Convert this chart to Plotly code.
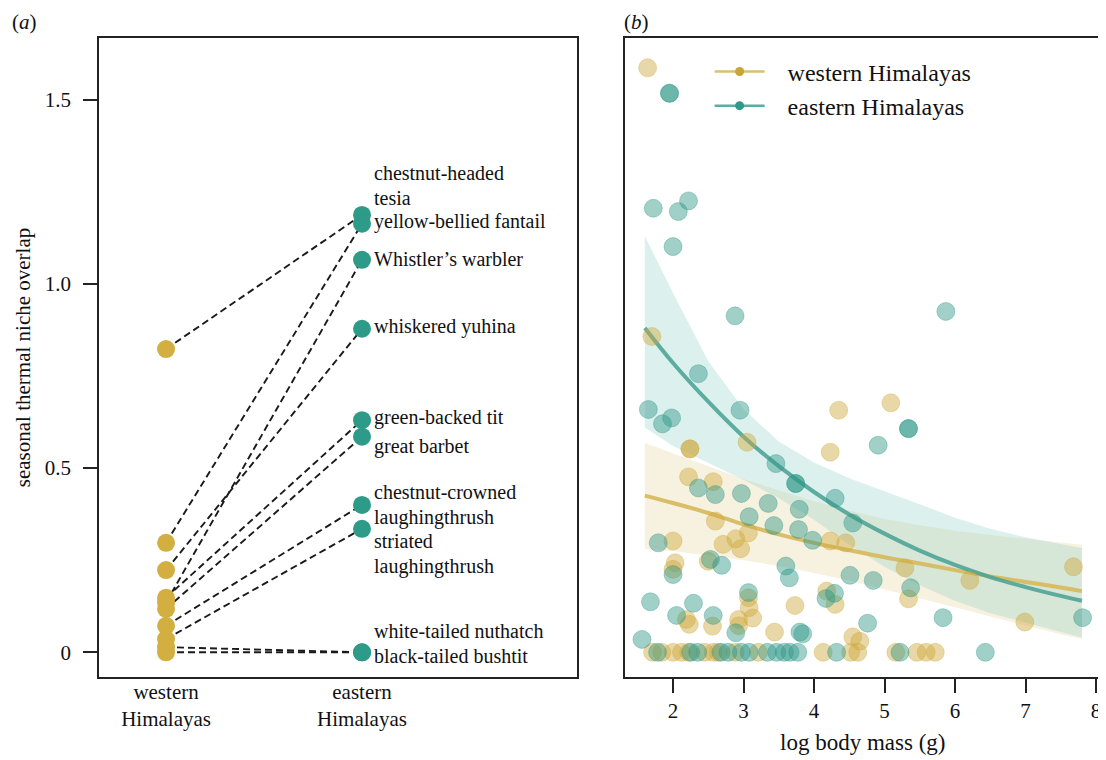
import plotly.graph_objects as go

# ---------------- panel (a) data ----------------
species = ["chestnut-headed tesia", "yellow-bellied fantail", "Whistler\u2019s warbler",
           "whiskered yuhina", "green-backed tit", "great barbet",
           "chestnut-crowned laughingthrush", "striated laughingthrush",
           "white-tailed nuthatch", "black-tailed bushtit"]
west_overlap = [0.823, 0.297, 0.135, 0.223, 0.148, 0.118, 0.072, 0.036, 0.014, 0.0]
east_overlap = [1.187, 1.163, 1.065, 0.878, 0.630, 0.585, 0.400, 0.335, 0.0, 0.0]
region_ticks = ["western<br>Himalayas", "eastern<br>Himalayas"]

# label text lines for the eastern points (text, y position in data units)
label_lines = [("chestnut-headed", 1.300), ("tesia", 1.232), ("yellow-bellied fantail", 1.168),
               ("Whistler\u2019s warbler", 1.068), ("whiskered yuhina", 0.883),
               ("green-backed tit", 0.637), ("great barbet", 0.558),
               ("chestnut-crowned", 0.434), ("laughingthrush", 0.366),
               ("striated", 0.301), ("laughingthrush", 0.233),
               ("white-tailed nuthatch", 0.057), ("black-tailed bushtit", -0.011)]

# ---------------- panel (b) data ----------------
west_mass = [1.64, 1.70, 5.09, 4.35, 4.23, 3.05, 2.24, 2.24, 2.22, 2.57, 2.60, 3.07, 2.89,
             2.71, 2.96, 4.23, 4.45, 2.00, 2.03, 2.00, 2.50, 5.29, 5.34, 6.21, 7.68, 6.99,
             3.07, 3.08, 3.73, 4.18, 4.30, 2.19, 2.23, 2.56, 2.93, 3.13, 2.93, 3.44, 4.55,
             4.65,
             1.71, 1.84, 2.00, 2.12, 2.22, 2.45, 2.57, 2.64, 2.88, 3.21, 4.13, 4.52, 4.62,
             5.16, 5.46, 5.59, 5.72]
west_niche = [1.586, 0.857, 0.677, 0.657, 0.543, 0.570, 0.552, 0.552, 0.476, 0.463, 0.356,
              0.324, 0.308, 0.293, 0.281, 0.302, 0.297, 0.302, 0.243, 0.225, 0.247, 0.229,
              0.145, 0.195, 0.232, 0.082, 0.148, 0.121, 0.127, 0.166, 0.130, 0.089, 0.076,
              0.071, 0.089, 0.093, 0.072, 0.055, 0.042, 0.030,
              0.0, 0.0, 0.0, 0.0, 0.0, 0.0, 0.0, 0.0, 0.0, 0.0, 0.0, 0.0, 0.0,
              0.0, 0.0, 0.0, 0.0]

east_mass = [1.95, 1.95, 1.72, 2.075, 2.22, 2.00, 2.88, 5.87, 5.34, 5.34, 4.91, 2.36, 1.65,
             1.98, 1.85, 2.95, 3.46, 3.74, 3.74, 4.30, 4.55, 2.36, 2.60, 2.97, 3.35, 3.79,
             3.08, 3.43, 3.78, 3.98, 1.79, 2.53, 2.69, 2.00, 3.60, 3.65, 4.51, 4.84, 5.37,
             1.68, 2.29, 3.07, 4.17, 4.29, 2.05, 2.57, 2.89, 3.80, 3.84, 4.76, 5.83, 7.81,
             1.56,
             1.78, 2.25, 2.35, 2.68, 2.78, 2.97, 3.08, 3.34, 3.47, 3.58, 3.66, 3.77, 4.32,
             5.22, 6.43]
east_niche = [1.517, 1.517, 1.205, 1.196, 1.225, 1.101, 0.913, 0.925, 0.607, 0.607, 0.562,
              0.756, 0.659, 0.636, 0.620, 0.657, 0.512, 0.458, 0.458, 0.418, 0.351, 0.446,
              0.428, 0.431, 0.404, 0.388, 0.368, 0.344, 0.333, 0.304, 0.297, 0.252, 0.236,
              0.211, 0.234, 0.202, 0.209, 0.195, 0.175, 0.137, 0.133, 0.162, 0.146, 0.160,
              0.100, 0.100, 0.053, 0.055, 0.050, 0.079, 0.094, 0.094, 0.035,
              0.0, 0.0, 0.0, 0.0, 0.0, 0.0, 0.0, 0.0, 0.0, 0.0, 0.0, 0.0, 0.0,
              0.0, 0.0]

fit_mass = [1.6, 2.0, 2.5, 3.0, 3.5, 4.0, 4.5, 5.0, 5.5, 6.0, 6.5, 7.0, 7.5, 7.8]
west_fit = [0.425, 0.405, 0.378, 0.347, 0.320, 0.297, 0.277, 0.258, 0.241, 0.223, 0.206,
            0.191, 0.176, 0.166]
west_upper = [0.568, 0.540, 0.505, 0.470, 0.440, 0.410, 0.385, 0.362, 0.345, 0.330, 0.318,
              0.307, 0.298, 0.292]
west_lower = [0.280, 0.275, 0.263, 0.250, 0.234, 0.215, 0.195, 0.172, 0.147, 0.122, 0.097,
              0.072, 0.049, 0.036]
east_fit = [0.880, 0.785, 0.680, 0.585, 0.505, 0.435, 0.374, 0.322, 0.276, 0.237, 0.204,
            0.177, 0.153, 0.140]
east_upper = [1.130, 0.975, 0.790, 0.660, 0.572, 0.515, 0.472, 0.438, 0.402, 0.365, 0.335,
              0.312, 0.292, 0.282]
east_lower = [0.610, 0.560, 0.515, 0.468, 0.418, 0.360, 0.292, 0.232, 0.182, 0.140, 0.106,
              0.080, 0.055, 0.040]
mass_ticks = [2, 3, 4, 5, 6, 7, 8]

# ---------------- styling ----------------
GOLD = "#D2AF40"
TEAL = "#2E9A88"
FONT = "Liberation Serif"
YR = [-0.067, 1.667]
NB = "\u00a0\u00a0\u00a0"  # small gap between legend symbol and text

fig = go.Figure()

# panel (a): dashed connecting lines
lx, ly = [], []
for w, e in zip(west_overlap, east_overlap):
    lx += [0, 1, None]
    ly += [w, e, None]
fig.add_trace(go.Scatter(x=lx, y=ly, mode="lines", xaxis="x", yaxis="y",
                         line=dict(color="#1a1a1a", width=1.9, dash="7px,4px"),
                         showlegend=False, hoverinfo="skip"))
fig.add_trace(go.Scatter(x=[0] * len(west_overlap), y=west_overlap, mode="markers",
                         xaxis="x", yaxis="y", marker=dict(color=GOLD, size=18),
                         showlegend=False, text=species))
fig.add_trace(go.Scatter(x=[1] * len(east_overlap), y=east_overlap, mode="markers",
                         xaxis="x", yaxis="y", marker=dict(color=TEAL, size=18),
                         showlegend=False, text=species))

# panel (b): confidence bands
fig.add_trace(go.Scatter(x=fit_mass + fit_mass[::-1], y=west_upper + west_lower[::-1],
                         fill="toself", fillcolor="rgba(228,206,140,0.28)", mode="lines",
                         line=dict(width=0), xaxis="x2", yaxis="y2",
                         showlegend=False, hoverinfo="skip"))
fig.add_trace(go.Scatter(x=fit_mass + fit_mass[::-1], y=east_upper + east_lower[::-1],
                         fill="toself", fillcolor="rgba(140,205,200,0.30)", mode="lines",
                         line=dict(width=0), xaxis="x2", yaxis="y2",
                         showlegend=False, hoverinfo="skip"))
# fitted curves
fig.add_trace(go.Scatter(x=fit_mass, y=west_fit, mode="lines", line_shape="spline",
                         line=dict(color="rgba(214,184,90,0.9)", width=4),
                         xaxis="x2", yaxis="y2", showlegend=False, hoverinfo="skip"))
fig.add_trace(go.Scatter(x=fit_mass, y=east_fit, mode="lines", line_shape="spline",
                         line=dict(color="rgba(70,160,146,0.85)", width=4),
                         xaxis="x2", yaxis="y2", showlegend=False, hoverinfo="skip"))
# points
fig.add_trace(go.Scatter(x=west_mass, y=west_niche, mode="markers", xaxis="x2", yaxis="y2",
                         marker=dict(color="rgba(206,168,60,0.45)", size=18,
                                     line=dict(color="rgba(206,168,60,0.35)", width=1)),
                         showlegend=False))
fig.add_trace(go.Scatter(x=east_mass, y=east_niche, mode="markers", xaxis="x2", yaxis="y2",
                         marker=dict(color="rgba(46,150,136,0.45)", size=18,
                                     line=dict(color="rgba(46,150,136,0.35)", width=1)),
                         showlegend=False))
# legend entries
fig.add_trace(go.Scatter(x=[None], y=[None], mode="lines+markers", xaxis="x2", yaxis="y2",
                         name=NB + "western Himalayas",
                         line=dict(color="#D9C070", width=2.5),
                         marker=dict(color="#C9A43A", size=9)))
fig.add_trace(go.Scatter(x=[None], y=[None], mode="lines+markers", xaxis="x2", yaxis="y2",
                         name=NB + "eastern Himalayas",
                         line=dict(color="#5AAEA0", width=2.5),
                         marker=dict(color=TEAL, size=9)))

annotations = []
for txt, yv in label_lines:
    annotations.append(dict(x=1, y=yv, xref="x", yref="y", text=txt, showarrow=False,
                            xanchor="left", yanchor="middle", xshift=10,
                            font=dict(family=FONT, size=20, color="#111")))
annotations.append(dict(x=0.002, y=1.0, xref="paper", yref="paper", text="(<i>a</i>)",
                        showarrow=False, xanchor="left", yanchor="top",
                        font=dict(family=FONT, size=21, color="#111")))
annotations.append(dict(x=0.559, y=1.0, xref="paper", yref="paper", text="(<i>b</i>)",
                        showarrow=False, xanchor="left", yanchor="top",
                        font=dict(family=FONT, size=21, color="#111")))

axis_common = dict(showline=True, mirror=True, linecolor="#222", linewidth=1.5,
                   showgrid=False, zeroline=False,
                   tickfont=dict(family=FONT, size=21, color="#111"))

# the page adds an 8 px body margin, so the figure is 8 px smaller than the window
fig.update_layout(
    width=1098, height=752,
    margin=dict(l=0, r=0, t=0, b=0),
    paper_bgcolor="white", plot_bgcolor="white",
    font=dict(family=FONT, color="#111"),
    xaxis=dict(domain=[0.0829, 0.5182], range=[-0.342, 2.097], tickvals=[0, 1],
               ticktext=region_ticks, ticks="", anchor="y", ticklabelstandoff=-5,
               **axis_common),
    yaxis=dict(domain=[0.1104, 0.9601], range=YR, tickvals=[0, 0.5, 1.0, 1.5],
               ticktext=["0", "0.5", "1.0", "1.5"], ticks="outside", ticklen=14,
               tickcolor="#222", tickwidth=1.5, anchor="x", ticklabelstandoff=8,
               title=dict(text="seasonal thermal niche overlap",
                          font=dict(family=FONT, size=21, color="#111"), standoff=8),
               **axis_common),
    xaxis2=dict(domain=[0.5615, 0.9954], range=[1.312, 8.07], tickvals=mass_ticks,
                ticks="outside", ticklen=14, tickcolor="#222", tickwidth=1.5, anchor="y2",
                title=dict(text="log body mass (g)",
                           font=dict(family=FONT, size=23, color="#111"), standoff=12),
                **axis_common),
    yaxis2=dict(domain=[0.1104, 0.9601], range=YR, showticklabels=False, ticks="",
                anchor="x2", **axis_common),
    legend=dict(x=0.639, y=0.945, xanchor="left", yanchor="top", bgcolor="rgba(0,0,0,0)",
                font=dict(family=FONT, size=24, color="#111"), itemwidth=50,
                tracegroupgap=0),
    annotations=annotations,
    showlegend=True,
)

fig.write_html("out.html")
